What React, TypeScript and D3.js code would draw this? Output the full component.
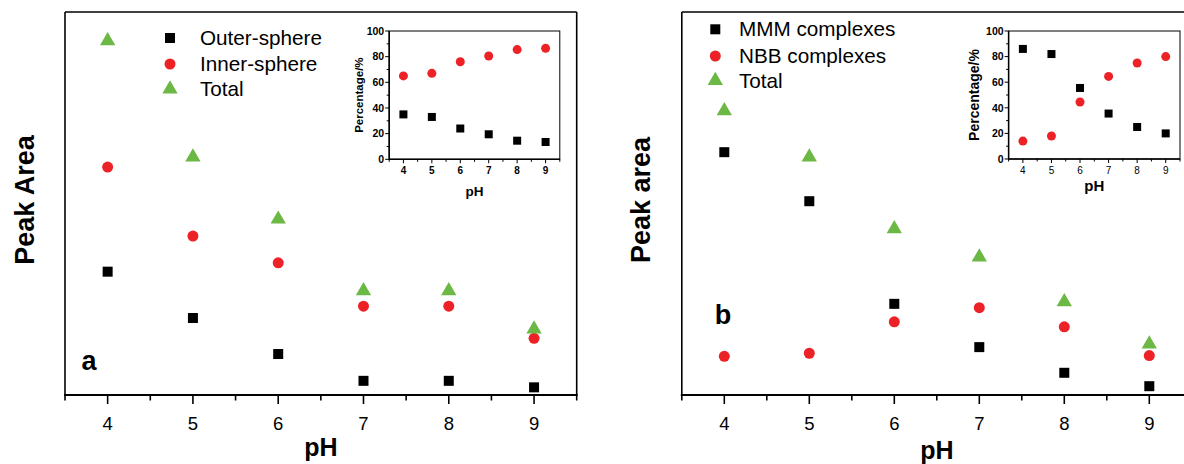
import React from "react";
import * as d3 from "d3";

const pH = [4, 5, 6, 7, 8, 9];

// Panel a (arbitrary peak-area units)
const outerSphere = [32.2, 20.1, 10.7, 3.7, 3.7, 2.0];
const innerSphere = [59.5, 41.5, 34.5, 23.2, 23.2, 14.8];
const totalA = [92.5, 62.1, 45.9, 27.2, 27.2, 17.2];
const insetOuterPct = [35, 33, 24, 19.5, 14.5, 13.5];
const insetInnerPct = [65, 67, 76, 80.5, 85.5, 86.5];

// Panel b
const mmm = [63.4, 50.6, 23.8, 12.5, 5.8, 2.3];
const nbb = [10.1, 10.9, 19.1, 22.8, 17.8, 10.3];
const totalB = [74.2, 62.1, 43.4, 36.0, 24.3, 13.3];
const insetMmmPct = [86, 82, 55.5, 35.5, 25, 20];
const insetNbbPct = [14, 18, 44.5, 64.5, 75, 80];

const legendA = ["Outer-sphere", "Inner-sphere", "Total"];
const legendB = ["MMM complexes", "NBB complexes", "Total"];
const pctTicks = [0, 20, 40, 60, 80, 100];

const BLACK = "#000000";
const RED = "#ec2227";
const GREEN = "#6cb845";
const FONT = "'Liberation Sans', Arial, Helvetica, sans-serif";

type Kind = "square" | "circle" | "triangle";

function Marker({ kind, x, y, size }: { kind: Kind; x: number; y: number; size: number }) {
  if (kind === "square") {
    return <rect x={x - size / 2} y={y - size / 2} width={size} height={size} fill={BLACK} />;
  }
  if (kind === "circle") {
    return <circle cx={x} cy={y} r={size / 2} fill={RED} />;
  }
  const path = d3.symbol(d3.symbolTriangle, size * size * 0.45)()!;
  return <path d={path} transform={`translate(${x},${y})`} fill={GREEN} />;
}

function Inset({
  x0, x1, y0, y1, black, red, boldX, labelSize, pHSize, pHY, labelOffset,
}: {
  x0: number; x1: number; y0: number; y1: number; black: number[]; red: number[];
  boldX: boolean; labelSize: number; pHSize: number; pHY: number; labelOffset: number;
}) {
  const xs = d3.scaleLinear().domain([3.5, 9.5]).range([x0, x1]);
  const ys = d3.scaleLinear().domain([0, 100]).range([y1, y0]);
  const minorX = d3.range(3.5, 9.6, 0.5);
  const minorY = d3.range(0, 101, 10);
  return (
    <g>
      <rect x={x0} y={y0} width={x1 - x0} height={y1 - y0} fill="white" stroke={BLACK} strokeWidth={1} />
      <line x1={x0} x2={x0} y1={y0} y2={y1} stroke={BLACK} strokeWidth={1.5} />
      <line x1={x0} x2={x1} y1={y1} y2={y1} stroke={BLACK} strokeWidth={1.5} />
      {minorX.map((v) => (
        <line key={"mx" + v} x1={xs(v)} x2={xs(v)} y1={y1} y2={y1 + (Number.isInteger(v) ? 4 : 2.5)} stroke={BLACK} strokeWidth={1} />
      ))}
      {minorY.map((v) => (
        <line key={"my" + v} x1={x0} x2={x0 - (v % 20 === 0 ? 4 : 2.5)} y1={ys(v)} y2={ys(v)} stroke={BLACK} strokeWidth={1} />
      ))}
      {pctTicks.map((v) => (
        <text key={"yl" + v} x={x0 - 5} y={ys(v) + 3.8} textAnchor="end" fontSize={10.5} fontWeight="bold" fontFamily={FONT}>{v}</text>
      ))}
      {pH.map((v) => (
        <text key={"xl" + v} x={xs(v)} y={y1 + 15} textAnchor="middle" fontSize={10} fontWeight={boldX ? "bold" : "normal"} fontFamily={FONT}>{v}</text>
      ))}
      <text x={(x0 + x1) / 2} y={pHY} textAnchor="middle" fontSize={pHSize} fontWeight="bold" fontFamily={FONT}>pH</text>
      <text transform={`translate(${x0 - labelOffset},${(y0 + y1) / 2}) rotate(-90)`} textAnchor="middle" fontSize={labelSize} fontWeight="bold" fontFamily={FONT}>Percentage/%</text>
      {pH.map((v, i) => (
        <Marker key={"ib" + v} kind="square" x={xs(v)} y={ys(black[i])} size={8} />
      ))}
      {pH.map((v, i) => (
        <Marker key={"ir" + v} kind="circle" x={xs(v)} y={ys(red[i])} size={9} />
      ))}
    </g>
  );
}

function Panel({
  x0, x1, series, legend, legendX, legendTextX, legendY, letter, letterX, letterY, yTitle, yTitleX, pHY,
}: {
  x0: number; x1: number; series: number[][]; legend: string[]; legendX: number; legendTextX: number;
  legendY: number[]; letter: string; letterX: number; letterY: number; yTitle: string; yTitleX: number; pHY: number;
}) {
  const top = 12;
  const bottom = 395;
  const xs = d3.scaleLinear().domain([3.5, 9.5]).range([x0, x1]);
  const ys = d3.scaleLinear().domain([0, 100]).range([bottom, top]);
  const ticks = d3.range(3.5, 9.6, 0.5);
  const kinds: Kind[] = ["square", "circle", "triangle"];
  const sizes = [10, 11, 15];
  return (
    <g>
      <line x1={x0} x2={x1} y1={top} y2={top} stroke={BLACK} strokeWidth={1.6} />
      <line x1={x0} x2={x0} y1={top} y2={bottom} stroke={BLACK} strokeWidth={1.6} />
      <line x1={x1} x2={x1} y1={top} y2={bottom} stroke={BLACK} strokeWidth={1.6} />
      <line x1={x0 - 1} x2={x1 + 1} y1={bottom} y2={bottom} stroke={BLACK} strokeWidth={2} />
      {ticks.map((v) => (
        <line key={"t" + v} x1={xs(v)} x2={xs(v)} y1={bottom} y2={bottom + (Number.isInteger(v) ? 9 : 5.5)} stroke={BLACK} strokeWidth={1.6} />
      ))}
      {pH.map((v) => (
        <text key={"l" + v} x={xs(v)} y={429.5} textAnchor="middle" fontSize={18.5} fontFamily={FONT}>{v}</text>
      ))}
      <text x={(x0 + x1) / 2} y={pHY} textAnchor="middle" fontSize={25} fontWeight="bold" fontFamily={FONT}>pH</text>
      <text transform={`translate(${yTitleX},200) rotate(-90)`} textAnchor="middle" fontSize={27} fontWeight="bold" fontFamily={FONT}>{yTitle}</text>
      <text x={letterX} y={letterY} textAnchor="middle" fontSize={27} fontWeight="bold" fontFamily={FONT}>{letter}</text>
      {legend.map((name, i) => (
        <g key={name}>
          <Marker kind={kinds[i]} x={legendX} y={legendY[i]} size={sizes[i]} />
          <text x={legendTextX} y={legendY[i] + 7} fontSize={20.7} fontFamily={FONT}>{name}</text>
        </g>
      ))}
      {series.map((vals, si) =>
        pH.map((v, i) => (
          <Marker key={si + "-" + v} kind={kinds[si]} x={xs(v)} y={ys(vals[i])} size={sizes[si]} />
        ))
      )}
    </g>
  );
}

export default function App() {
  return (
    <svg width={1184} height={464} style={{ position: "absolute", left: 0, top: 0, background: "white" }}>
      <rect width={1184} height={464} fill="white" />
      <Panel
        x0={65} x1={576.7}
        series={[outerSphere, innerSphere, totalA]}
        legend={legendA} legendX={170} legendTextX={200} legendY={[38, 64, 89]}
        letter="a" letterX={89} letterY={370}
        yTitle="Peak Area" yTitleX={34} pHY={456}
      />
      <Inset x0={389.2} x1={559.8} y0={31} y1={159.3} black={insetOuterPct} red={insetInnerPct} boldX={true} labelSize={11.5} pHSize={13.5} pHY={196} labelOffset={26} />
      <Panel
        x0={681.8} x1={1191.8}
        series={[mmm, nbb, totalB]}
        legend={legendB} legendX={715.3} legendTextX={739} legendY={[29.3, 56, 80.7]}
        letter="b" letterX={723} letterY={324}
        yTitle="Peak area" yTitleX={650} pHY={459}
      />
      <Inset x0={1008.6} x1={1180} y0={31} y1={159} black={insetMmmPct} red={insetNbbPct} boldX={false} labelSize={14} pHSize={15} pHY={191} labelOffset={30} />
    </svg>
  );
}
